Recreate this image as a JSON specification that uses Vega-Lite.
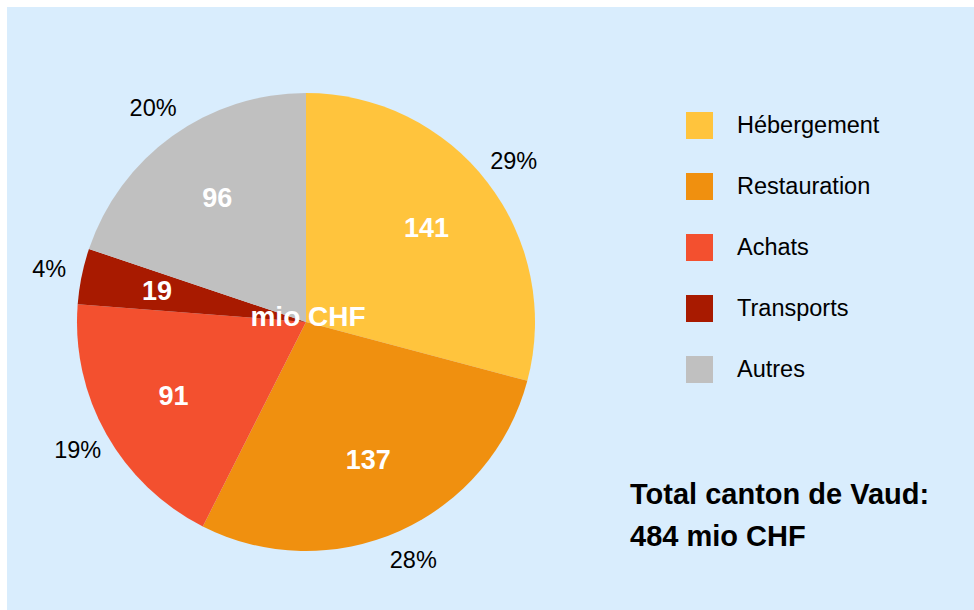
{
  "$schema": "https://vega.github.io/schema/vega-lite/v6.json",
  "width": 974,
  "height": 610,
  "autosize": {"type": "fit", "contains": "padding"},
  "padding": {"left": 7, "top": 7, "right": 0, "bottom": 0},
  "background": "white",
  "view": {"fill": "#d9edfd", "stroke": "#d9edfd", "strokeWidth": 0},
  "config": {
    "font": "Liberation Sans"
  },
  "data": {
    "values": [
      {"cat": "Hébergement", "value": 141, "pct": "29%", "ord": 1},
      {"cat": "Restauration", "value": 137, "pct": "28%", "ord": 2},
      {"cat": "Achats", "value": 91, "pct": "19%", "ord": 3},
      {"cat": "Transports", "value": 19, "pct": "4%", "ord": 4},
      {"cat": "Autres", "value": 96, "pct": "20%", "ord": 5}
    ]
  },
  "layer": [
    {
      "mark": {"type": "arc", "outerRadius": 229, "x": 299, "y": 315},
      "encoding": {
        "theta": {"field": "value", "type": "quantitative", "stack": true},
        "order": {"field": "ord", "type": "quantitative"},
        "color": {
          "field": "cat",
          "type": "nominal",
          "scale": {
            "domain": ["Hébergement", "Restauration", "Achats", "Transports", "Autres"],
            "range": ["#ffc43d", "#f0900f", "#f3502f", "#a81a00", "#c0c0c0"]
          },
          "legend": {
            "orient": "none",
            "legendX": 679,
            "legendY": 105,
            "title": null,
            "padding": 0,
            "symbolType": "square",
            "symbolSize": 729,
            "symbolStrokeWidth": 0,
            "symbolOpacity": 1,
            "labelFontSize": 23.5,
            "labelColor": "black",
            "labelFont": "Liberation Sans",
            "labelOffset": 24,
            "rowPadding": 34,
            "labelLimit": 300
          }
        }
      }
    },
    {
      "mark": {"type": "text", "radius": 152, "x": 299, "y": 315, "fontSize": 27, "fontWeight": "bold", "color": "white", "align": "center", "baseline": "middle"},
      "encoding": {
        "theta": {"field": "value", "type": "quantitative", "stack": true},
        "order": {"field": "ord", "type": "quantitative"},
        "text": {"field": "value", "type": "quantitative"}
      }
    },
    {
      "mark": {"type": "text", "radius": 262, "x": 299, "y": 315, "fontSize": 23.5, "color": "black", "align": "center", "baseline": "middle"},
      "encoding": {
        "theta": {"field": "value", "type": "quantitative", "stack": true},
        "order": {"field": "ord", "type": "quantitative"},
        "text": {"field": "pct", "type": "nominal"}
      }
    },
    {
      "data": {"values": [{"t": "mio CHF"}]},
      "mark": {"type": "text", "x": 301, "y": 311, "fontSize": 28, "fontWeight": "bold", "color": "white", "align": "center", "baseline": "middle"},
      "encoding": {"text": {"field": "t", "type": "nominal"}}
    },
    {
      "data": {"values": [{"t": ["Total canton de Vaud:", "484 mio CHF"]}]},
      "mark": {"type": "text", "x": 623, "y": 497, "fontSize": 29, "fontWeight": "bold", "color": "black", "align": "left", "baseline": "alphabetic", "lineHeight": 42},
      "encoding": {"text": {"field": "t", "type": "nominal"}}
    }
  ]
}
